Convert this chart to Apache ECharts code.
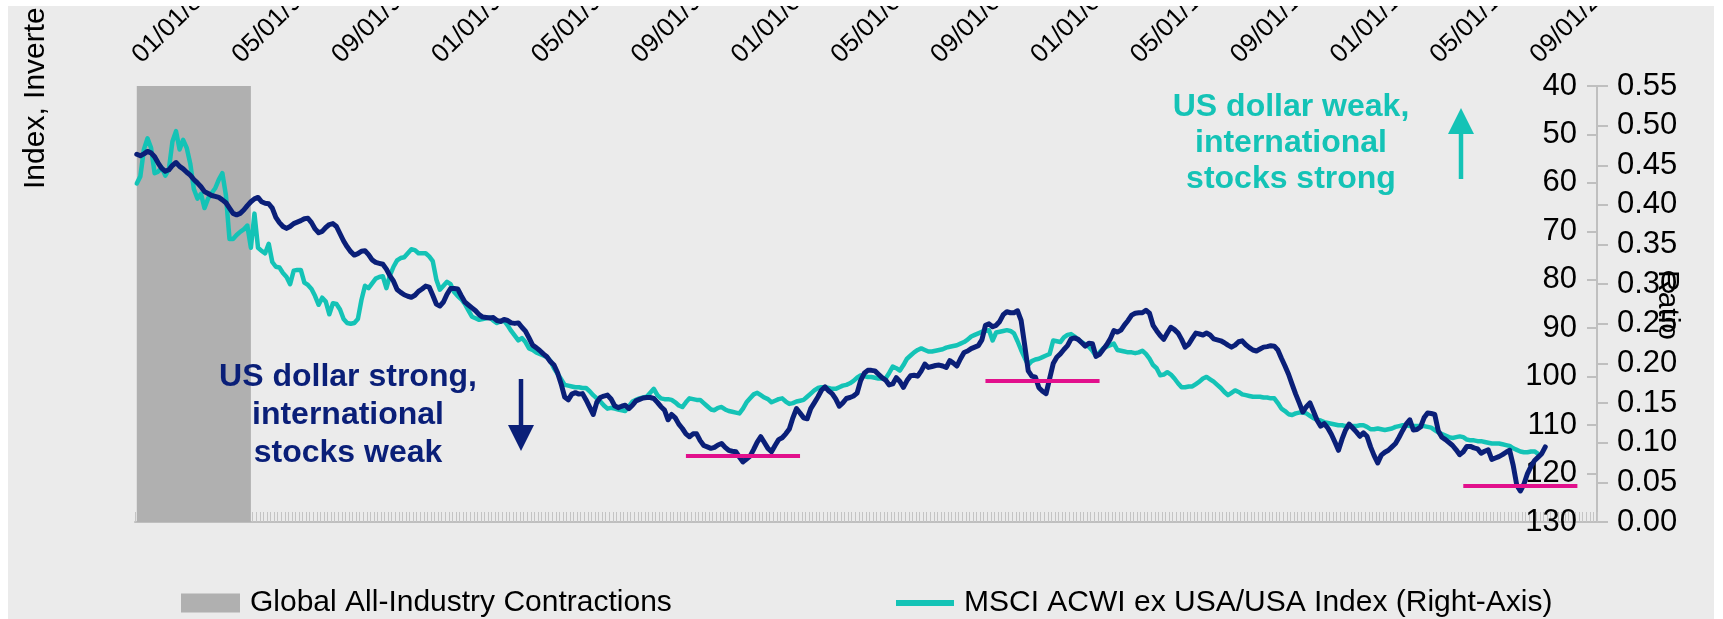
<!DOCTYPE html>
<html>
<head>
<meta charset="utf-8">
<script src="https://cdn.jsdelivr.net/npm/echarts@6/dist/echarts.min.js"></script>
<style>
  html, body { margin: 0; padding: 0; background: #ffffff; }
  #frame { position: absolute; left: 8px; top: 6px; width: 1706px; height: 613px; background: #ebebeb; }
  #chart { position: absolute; left: 0; top: 0; width: 1723px; height: 619px; clip-path: inset(6px 9px 0 8px); }
</style>
</head>
<body>
<div id="frame"></div>
<div id="chart"></div>
<script>
// Monthly axis: January 1988 onward
const START_YEAR = 1988;
const MONTH_COUNT = 410;
const months = [];
for (let k = 0; k < MONTH_COUNT; k++) {
  const y = START_YEAR + Math.floor(k / 12);
  const m = (k % 12) + 1;
  months.push(y + '-' + (m < 10 ? '0' + m : '' + m));
}
// a date label every 28 months
const LABEL_EVERY = 28;

// Trade-weighted US dollar index, plotted on an inverted scale (left axis)
const dollarIndexInverted = [
  54.1, 54.4, 54.0, 53.5, 53.8, 54.6, 55.9, 57.0, 57.6, 57.3, 56.4, 55.8,
  56.6, 57.1, 57.8, 58.4, 59.3, 60.0, 60.8, 61.8, 62.2, 62.6, 62.8, 63.0,
  63.5, 64.1, 65.2, 66.3, 66.6, 66.3, 65.6, 64.7, 63.9, 63.3, 63.0, 63.9,
  64.2, 64.3, 65.2, 67.1, 68.2, 69.0, 69.4, 69.0, 68.4, 68.1, 67.8, 67.4,
  67.3, 68.2, 69.5, 70.3, 70.0, 69.2, 68.6, 68.4, 69.0, 70.5, 72.0, 73.2,
  74.2, 74.9, 74.6, 74.1, 74.0, 74.8, 75.9, 76.4, 76.6, 76.8, 77.8, 79.2,
  80.3, 82.0, 82.6, 83.1, 83.4, 83.6, 83.2, 82.4, 81.9, 81.3, 81.5, 83.2,
  85.0, 85.4, 84.6, 83.0, 81.8, 81.8, 81.9, 83.3, 84.6, 85.2, 85.8, 86.4,
  87.2, 87.7, 87.8, 87.9, 87.8, 88.4, 88.6, 88.2, 88.4, 88.9, 89.0, 88.9,
  89.8, 90.6, 92.0, 93.5, 94.0, 94.6, 95.3, 95.9, 96.9, 97.6, 99.2, 101.5,
  104.2, 104.8, 103.6, 103.3, 103.6, 103.5, 104.8, 106.3, 107.8, 105.3, 104.3, 104.0,
  103.8, 104.6, 106.0, 106.4, 106.1, 105.9, 106.6, 105.9, 105.0, 104.7, 104.4, 104.3,
  104.3, 104.5, 105.3, 106.2, 106.9, 108.9, 107.8, 108.5, 109.8, 110.7, 111.8, 112.4,
  111.8, 111.8, 113.2, 114.2, 114.5, 114.8, 114.6, 114.1, 113.8, 114.6, 115.2, 115.4,
  115.5, 116.6, 117.6, 117.0, 116.4, 115.0, 113.5, 112.4, 113.6, 114.8, 115.5, 114.2,
  113.0, 112.6, 111.8, 110.8, 108.5, 106.6, 107.5, 108.5, 108.7, 106.6, 105.4, 104.2,
  102.8, 102.1, 102.9, 103.5, 104.6, 106.1, 105.4, 104.5, 104.3, 104.0, 103.4, 100.8,
  99.3, 98.7, 98.7, 98.8, 99.5, 100.2, 100.7, 101.7, 101.5, 100.2, 101.0, 102.2,
  100.8, 99.8, 99.7, 99.9, 98.8, 97.4, 98.1, 97.9, 97.7, 97.6, 97.8, 98.1,
  96.7, 97.2, 97.8, 96.3, 95.0, 94.7, 94.2, 93.9, 93.6, 92.4, 89.4, 89.1,
  89.7, 89.4, 88.6, 87.2, 86.6, 86.8, 86.8, 86.4, 88.4, 93.5, 98.8, 99.9,
  100.1, 102.3, 103.0, 103.5, 100.4, 97.3, 96.0, 95.3, 94.4, 93.6, 92.2, 92.0,
  92.3, 93.0, 93.7, 93.1, 93.2, 95.8, 95.4, 94.4, 93.4, 92.2, 90.5, 90.8,
  90.4, 89.3, 88.4, 87.3, 86.9, 86.8, 86.8, 86.3, 86.9, 89.4, 90.5, 91.5,
  92.3, 91.0, 89.8, 90.3, 91.0, 92.3, 93.9, 93.3, 92.1, 91.0, 91.2, 91.4,
  91.0, 91.4, 92.2, 92.4, 92.6, 93.0, 93.5, 93.9, 93.5, 92.8, 92.6, 93.4,
  94.0, 94.5, 94.7, 94.3, 93.9, 93.8, 93.6, 93.7, 94.5, 96.2, 97.8, 99.5,
  101.6, 103.6, 105.4, 107.3, 106.2, 105.4, 107.2, 109.0, 110.2, 109.7, 110.6, 111.9,
  113.5, 115.2, 112.9, 111.0, 109.8, 110.6, 111.4, 112.3, 111.6, 112.3, 114.5, 116.3,
  117.8, 116.2, 115.6, 115.2, 114.5, 113.8, 112.5, 111.1, 109.8, 108.9, 111.0, 110.9,
  110.4, 108.5, 107.5, 107.6, 107.8, 111.2, 112.5, 113.0, 113.6, 114.2, 115.1, 116.1,
  115.5, 114.4, 114.4, 114.7, 114.9, 115.8, 115.4, 115.1, 117.1, 116.8, 116.5, 116.1,
  115.6, 115.2, 118.3, 122.4, 123.6, 122.2, 120.0, 118.5, 117.3, 116.6, 115.9, 114.5
];

// MSCI ACWI ex USA / MSCI USA price ratio (right axis)
const acwiExUsaToUsaRatio = [
  0.427, 0.436, 0.470, 0.484, 0.472, 0.440, 0.442, 0.447, 0.437, 0.445, 0.480, 0.493,
  0.470, 0.482, 0.472, 0.452, 0.420, 0.408, 0.414, 0.396, 0.408, 0.415, 0.421, 0.432,
  0.440, 0.412, 0.357, 0.357, 0.362, 0.366, 0.369, 0.374, 0.346, 0.389, 0.346, 0.342,
  0.339, 0.351, 0.328, 0.322, 0.321, 0.314, 0.309, 0.300, 0.317, 0.318, 0.318, 0.302,
  0.299, 0.294, 0.285, 0.274, 0.283, 0.278, 0.262, 0.276, 0.275, 0.268, 0.256, 0.251,
  0.250, 0.251, 0.256, 0.280, 0.298, 0.295, 0.301, 0.307, 0.309, 0.310, 0.295, 0.311,
  0.322, 0.330, 0.333, 0.334, 0.339, 0.344, 0.343, 0.339, 0.339, 0.339, 0.335, 0.329,
  0.306, 0.293, 0.298, 0.303, 0.300, 0.290, 0.285, 0.281, 0.275, 0.267, 0.259, 0.257,
  0.255, 0.256, 0.257, 0.258, 0.254, 0.251, 0.253, 0.254, 0.248, 0.241, 0.235, 0.229,
  0.232, 0.227, 0.219, 0.217, 0.214, 0.212, 0.210, 0.208, 0.203, 0.194, 0.187, 0.180,
  0.173, 0.172, 0.171, 0.170, 0.170, 0.169, 0.169, 0.165, 0.160, 0.156, 0.152, 0.147,
  0.143, 0.144, 0.143, 0.142, 0.141, 0.140, 0.146, 0.152, 0.154, 0.156, 0.157, 0.158,
  0.163, 0.168, 0.160, 0.156, 0.155, 0.155, 0.154, 0.151, 0.147, 0.145, 0.151, 0.156,
  0.155, 0.154, 0.154, 0.150, 0.146, 0.142, 0.141, 0.144, 0.145, 0.142, 0.140, 0.139,
  0.138, 0.137, 0.143, 0.151, 0.156, 0.161, 0.163, 0.160, 0.157, 0.155, 0.151, 0.153,
  0.155, 0.156, 0.152, 0.149, 0.150, 0.152, 0.153, 0.154, 0.158, 0.162, 0.166, 0.169,
  0.170, 0.170, 0.169, 0.168, 0.168, 0.170, 0.172, 0.173, 0.175, 0.178, 0.182, 0.185,
  0.184, 0.183, 0.183, 0.182, 0.181, 0.181, 0.181, 0.188, 0.196, 0.194, 0.191, 0.198,
  0.206, 0.210, 0.214, 0.217, 0.219, 0.217, 0.215, 0.215, 0.216, 0.217, 0.218, 0.220,
  0.221, 0.222, 0.223, 0.225, 0.227, 0.230, 0.234, 0.236, 0.238, 0.240, 0.241, 0.242,
  0.229, 0.239, 0.240, 0.241, 0.242, 0.241, 0.238, 0.228, 0.217, 0.207, 0.198, 0.203,
  0.205, 0.206, 0.208, 0.210, 0.212, 0.229, 0.228, 0.227, 0.233, 0.236, 0.237, 0.234,
  0.230, 0.227, 0.224, 0.221, 0.216, 0.209, 0.214, 0.219, 0.221, 0.223, 0.225, 0.217,
  0.216, 0.215, 0.214, 0.214, 0.213, 0.214, 0.216, 0.212, 0.206, 0.198, 0.194, 0.185,
  0.186, 0.189, 0.186, 0.181, 0.175, 0.170, 0.170, 0.171, 0.171, 0.174, 0.177, 0.181,
  0.183, 0.180, 0.177, 0.173, 0.169, 0.164, 0.160, 0.163, 0.166, 0.164, 0.161, 0.160,
  0.159, 0.158, 0.158, 0.158, 0.157, 0.157, 0.156, 0.156, 0.150, 0.143, 0.140, 0.136,
  0.135, 0.137, 0.138, 0.138, 0.137, 0.134, 0.131, 0.129, 0.128, 0.126, 0.125, 0.124,
  0.123, 0.122, 0.122, 0.121, 0.121, 0.121, 0.121, 0.122, 0.122, 0.120, 0.117, 0.117,
  0.118, 0.117, 0.116, 0.117, 0.118, 0.120, 0.121, 0.122, 0.122, 0.121, 0.121, 0.121,
  0.121, 0.121, 0.120, 0.119, 0.116, 0.113, 0.111, 0.109, 0.107, 0.106, 0.107, 0.108,
  0.107, 0.104, 0.103, 0.103, 0.102, 0.102, 0.101, 0.100, 0.099, 0.099, 0.099, 0.098,
  0.097, 0.096, 0.093, 0.091, 0.089, 0.088, 0.088, 0.089, 0.089, 0.086
];

// Global all-industry contraction periods [first month, last month]
const contractionPeriods = [['1988-01', '1990-09']];

// Strong-dollar troughs on the inverted index, marked by horizontal bars
const dollarPeakBars = [
  { from: '2000-11', to: '2003-07', level: 116.4 },
  { from: '2007-11', to: '2010-07', level: 100.9 },
  { from: '2019-01', to: '2021-09', level: 122.6 }
];

// Axis scales
const leftAxis = { min: 40, max: 130, interval: 10 };
const rightAxis = { min: 0, max: 0.55, interval: 0.05 };

const FONT = 'Liberation Sans';
const NAVY = '#0a1f78';
const TEAL = '#14c3b6';
const MAGENTA = '#e2108c';
const SHADE = '#b0b0b0';
const AXIS_GRAY = '#bfbfbf';

const NAME_CONTRACTIONS = 'Global All-Industry Contractions';
const NAME_RATIO = 'MSCI ACWI ex USA/USA Index (Right-Axis)';
const NAME_DOLLAR = 'US Dollar Index, Inverted';

function dateLabel(v) {
  const [y, m] = v.split('-');
  return m + '/01/' + y.slice(2);
}

const chart = echarts.init(document.getElementById('chart'), null, { renderer: 'canvas' });

chart.setOption({
  backgroundColor: 'transparent',
  animation: false,
  textStyle: { fontFamily: FONT },
  grid: { left: 135, right: 126, top: 86, bottom: 97, containLabel: false, outerBoundsMode: 'none' },
  legend: [
    {
      left: 181, top: 588, padding: 0, icon: 'rect', itemWidth: 59, itemHeight: 19,
      selectedMode: false, data: [NAME_CONTRACTIONS],
      textStyle: { fontSize: 30, color: '#000', fontFamily: FONT, padding: [0, 0, 0, 5] }
    },
    {
      left: 896, top: 588, padding: 0, icon: 'rect', itemWidth: 58, itemHeight: 6,
      selectedMode: false, data: [NAME_RATIO],
      textStyle: { fontSize: 30, color: '#000', fontFamily: FONT, padding: [0, 0, 0, 5] }
    }
  ],
  xAxis: [
    {
      type: 'category', position: 'top', data: months, boundaryGap: true,
      axisLine: { show: false }, axisTick: { show: false }, splitLine: { show: false },
      axisLabel: {
        interval: (i) => i % LABEL_EVERY === 0,
        rotate: 45, margin: 27, fontSize: 26, color: '#000', fontFamily: FONT,
        formatter: dateLabel
      }
    },
    {
      type: 'category', position: 'bottom', data: months, boundaryGap: true,
      axisLine: { show: true, lineStyle: { color: AXIS_GRAY, width: 2 } },
      axisTick: { show: true, interval: 0, inside: true, length: 10, lineStyle: { color: '#c4c4c4', width: 1 } },
      axisLabel: { show: false }, splitLine: { show: false }
    }
  ],
  yAxis: [
    {
      type: 'value', position: 'right', inverse: true,
      min: leftAxis.min, max: leftAxis.max, interval: leftAxis.interval,
      axisLine: { show: true, lineStyle: { color: AXIS_GRAY, width: 2 } },
      axisTick: { show: true, inside: true, length: 10, lineStyle: { color: AXIS_GRAY, width: 2 } },
      axisLabel: { inside: true, margin: 20, fontSize: 31, color: '#000', fontFamily: FONT },
      splitLine: { show: false }
    },
    {
      type: 'value', position: 'right',
      min: rightAxis.min, max: rightAxis.max, interval: rightAxis.interval,
      axisLine: { show: true, lineStyle: { color: AXIS_GRAY, width: 2 } },
      axisTick: { show: true, length: 11, lineStyle: { color: AXIS_GRAY, width: 2 } },
      axisLabel: { margin: 20, fontSize: 31, color: '#000', fontFamily: FONT, formatter: (v) => v.toFixed(2) },
      splitLine: { show: false }
    }
  ],
  series: [
    {
      name: NAME_CONTRACTIONS, type: 'line', xAxisIndex: 0, yAxisIndex: 0, data: [],
      itemStyle: { color: SHADE }, lineStyle: { color: SHADE }, z: 1,
      markArea: {
        silent: true,
        itemStyle: { color: SHADE, opacity: 1 },
        data: contractionPeriods.map((p) => [{ xAxis: p[0] }, { xAxis: p[1] }])
      }
    },
    {
      name: NAME_RATIO, type: 'line', xAxisIndex: 0, yAxisIndex: 1,
      data: acwiExUsaToUsaRatio, showSymbol: false, symbol: 'none', z: 3,
      itemStyle: { color: TEAL },
      lineStyle: { color: TEAL, width: 4.5, cap: 'round', join: 'round' }
    },
    {
      name: NAME_DOLLAR, type: 'line', xAxisIndex: 0, yAxisIndex: 0,
      data: dollarIndexInverted, showSymbol: false, symbol: 'none', z: 4,
      itemStyle: { color: NAVY },
      lineStyle: { color: NAVY, width: 5, cap: 'round', join: 'round' },
      markLine: {
        silent: true, symbol: ['none', 'none'], label: { show: false },
        lineStyle: { color: MAGENTA, width: 4, type: 'solid' },
        emphasis: { disabled: true },
        data: dollarPeakBars.map((b) => [{ coord: [b.from, b.level] }, { coord: [b.to, b.level] }])
      }
    }
  ],
  graphic: [
    {
      type: 'text', x: 36, y: 189, rotation: Math.PI / 2, z: 100,
      style: { text: 'Index, Inverted', fontSize: 30, fontFamily: FONT, fill: '#000', align: 'left', verticalAlign: 'middle' }
    },
    {
      type: 'text', x: 1667, y: 305, rotation: -Math.PI / 2, z: 100,
      style: { text: 'Ratio', fontSize: 30, fontFamily: FONT, fill: '#000', align: 'center', verticalAlign: 'middle' }
    },
    {
      type: 'text', x: 1291, y: 143, z: 100,
      style: {
        text: 'US dollar weak,\ninternational\nstocks strong', fontSize: 32, fontWeight: 'bold',
        fontFamily: FONT, fill: TEAL, align: 'center', verticalAlign: 'middle', lineHeight: 36
      }
    },
    {
      type: 'text', x: 348, y: 415, z: 100,
      style: {
        text: 'US dollar strong,\ninternational\nstocks weak', fontSize: 32, fontWeight: 'bold',
        fontFamily: FONT, fill: NAVY, align: 'center', verticalAlign: 'middle', lineHeight: 38
      }
    },
    // up arrow (teal)
    { type: 'line', z: 100, shape: { x1: 1461, y1: 179, x2: 1461, y2: 130 }, style: { stroke: TEAL, lineWidth: 4.5 } },
    { type: 'polygon', z: 100, shape: { points: [[1461, 108], [1474, 134], [1448, 134]] }, style: { fill: TEAL } },
    // down arrow (navy)
    { type: 'line', z: 100, shape: { x1: 521, y1: 379, x2: 521, y2: 428 }, style: { stroke: NAVY, lineWidth: 4.5 } },
    { type: 'polygon', z: 100, shape: { points: [[521, 451], [534, 425], [508, 425]] }, style: { fill: NAVY } }
  ]
});
</script>
</body>
</html>
